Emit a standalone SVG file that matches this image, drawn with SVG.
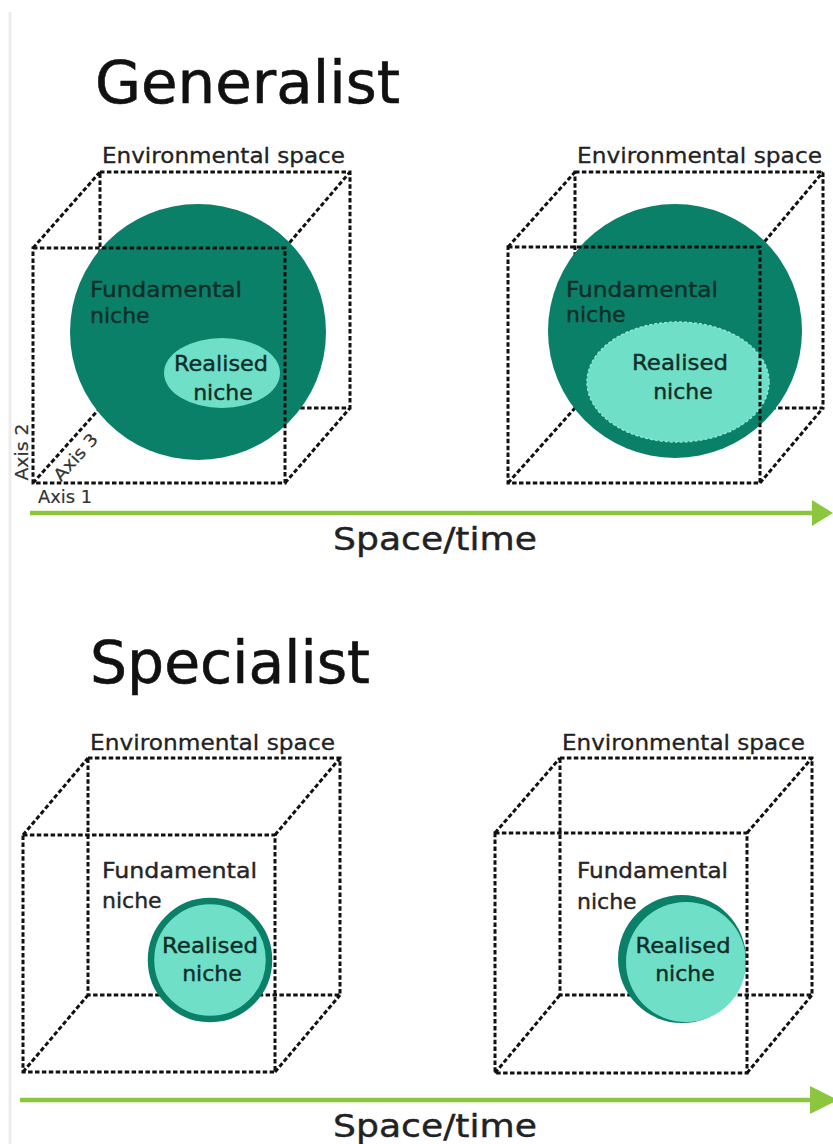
<svg xmlns="http://www.w3.org/2000/svg" width="833" height="1144" viewBox="0 0 833 1144">
<style>
text{font-family:"DejaVu Sans","Liberation Sans",sans-serif}
.title{font-size:58px;fill:#111;stroke:#111;stroke-width:0.6}
.axisT{font-size:32px;fill:#222;stroke:#222;stroke-width:0.4}
.env{font-size:22px;fill:#222;stroke:#222;stroke-width:0.3}
.lbl{font-size:22px;stroke-width:0.4}
.dk{fill:#0f2e28;stroke:#0f2e28}
.gr{fill:#262626;stroke:#262626}
.ax{font-size:17px;fill:#333;stroke:#333;stroke-width:0.2}
.edge{fill:none;stroke:#111;stroke-width:3;stroke-dasharray:4.5 2.4}
.dark{fill:#0b8069}
.light{fill:#6fdfc8}
.arrow{stroke:#8cc63f;stroke-width:4.5}
.head{fill:#8cc63f}
</style>
<rect width="833" height="1144" fill="#fff"/>
<line x1="10" y1="12" x2="10" y2="1144" stroke="#ededed" stroke-width="3"/>

<text class="title" x="95" y="103" textLength="305" lengthAdjust="spacingAndGlyphs">Generalist</text>
<text class="title" x="90" y="683" textLength="280" lengthAdjust="spacingAndGlyphs">Specialist</text>

<g id="connectors">
  <line class="arrow" x1="30" y1="513" x2="815" y2="513"/>
  <polygon class="head" points="812,500 833,513 812,526"/>
  <line class="arrow" x1="20" y1="1100" x2="815" y2="1100"/>
  <polygon class="head" points="810,1086 838,1100 810,1114"/>
</g>
<text class="axisT" x="333" y="550" textLength="204" lengthAdjust="spacingAndGlyphs">Space/time</text>
<text class="axisT" x="333" y="1137" textLength="204" lengthAdjust="spacingAndGlyphs">Space/time</text>

<!-- Cube 1 -->
<g id="cube1">
  <text class="env" x="102" y="163" textLength="243" lengthAdjust="spacingAndGlyphs">Environmental space</text>
  <path class="edge" d="M100,172 H350 V408 H100 Z M33,248 L100,172 M285,248 L350,172 M285,483 L350,408 M33,483 L100,408"/>
  <circle class="dark" cx="198" cy="332" r="128"/>
  <ellipse class="light" cx="222" cy="373" rx="58" ry="35"/>
  <path class="edge" d="M33,248 H285 V483 H33 Z"/>
  <text class="lbl dk" x="90" y="297" textLength="152" lengthAdjust="spacingAndGlyphs">Fundamental</text>
  <text class="lbl dk" x="90" y="323">niche</text>
  <text class="lbl dk" x="221" y="371" text-anchor="middle" textLength="94" lengthAdjust="spacingAndGlyphs">Realised</text>
  <text class="lbl dk" x="223" y="400" text-anchor="middle">niche</text>
  <text class="ax" transform="translate(28,452) rotate(-90)" text-anchor="middle" textLength="57" lengthAdjust="spacingAndGlyphs">Axis 2</text>
  <text class="ax" transform="translate(80,461) rotate(-48)" text-anchor="middle" textLength="57" lengthAdjust="spacingAndGlyphs">Axis 3</text>
  <text class="ax" x="38" y="503" textLength="54" lengthAdjust="spacingAndGlyphs">Axis 1</text>
</g>

<!-- Cube 2 -->
<g id="cube2">
  <text class="env" x="577" y="163" textLength="245" lengthAdjust="spacingAndGlyphs">Environmental space</text>
  <path class="edge" d="M575,172 H823 V408 H575 Z M508,247 L575,172 M760,247 L823,172 M760,483 L823,408 M508,483 L575,408"/>
  <circle class="dark" cx="675" cy="331" r="127"/>
  <ellipse class="light" cx="678" cy="382" rx="91" ry="60" stroke="#8fe8d6" stroke-width="1.5" stroke-dasharray="3 2"/>
  <path class="edge" d="M508,247 H760 V483 H508 Z"/>
  <text class="lbl dk" x="566" y="297" textLength="152" lengthAdjust="spacingAndGlyphs">Fundamental</text>
  <text class="lbl dk" x="566" y="322">niche</text>
  <text class="lbl dk" x="680" y="370" text-anchor="middle" textLength="96" lengthAdjust="spacingAndGlyphs">Realised</text>
  <text class="lbl dk" x="683" y="399" text-anchor="middle">niche</text>
</g>

<!-- Cube 3 -->
<g id="cube3">
  <text class="env" x="90" y="750" textLength="245" lengthAdjust="spacingAndGlyphs">Environmental space</text>
  <path class="edge" d="M88,758 H340 V995 H88 Z M23,835 L88,758 M275,835 L340,758 M275,1072 L340,995 M23,1072 L88,995"/>
  <text class="lbl gr" x="102" y="878" textLength="155" lengthAdjust="spacingAndGlyphs">Fundamental</text>
  <text class="lbl gr" x="102" y="908">niche</text>
  <circle cx="210" cy="960" r="59" fill="#6fdfc8" stroke="#0b8069" stroke-width="6.5"/>
  <path class="edge" d="M23,835 H275 V1072 H23 Z"/>
  <text class="lbl dk" x="210" y="953" text-anchor="middle" textLength="96" lengthAdjust="spacingAndGlyphs">Realised</text>
  <text class="lbl dk" x="212" y="981" text-anchor="middle">niche</text>
</g>

<!-- Cube 4 -->
<g id="cube4">
  <text class="env" x="562" y="750" textLength="243" lengthAdjust="spacingAndGlyphs">Environmental space</text>
  <path class="edge" d="M560,758 H812 V995 H560 Z M495,833 L560,758 M747,833 L812,758 M747,1073 L812,995 M495,1073 L560,995"/>
  <text class="lbl gr" x="577" y="878" textLength="151" lengthAdjust="spacingAndGlyphs">Fundamental</text>
  <text class="lbl gr" x="577" y="909">niche</text>
  <circle class="dark" cx="682" cy="959" r="64"/>
  <circle class="light" cx="686" cy="962" r="60"/>
  <path class="edge" d="M495,833 H747 V1073 H495 Z"/>
  <text class="lbl dk" x="683" y="953" text-anchor="middle" textLength="95" lengthAdjust="spacingAndGlyphs">Realised</text>
  <text class="lbl dk" x="685" y="981" text-anchor="middle">niche</text>
</g>
</svg>
